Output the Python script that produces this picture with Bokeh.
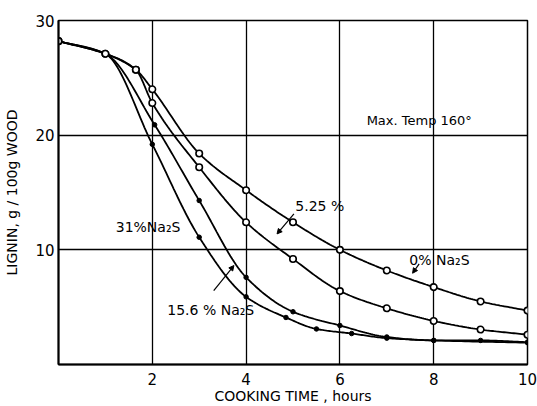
import numpy as np
from bokeh.plotting import figure
from bokeh.models import FixedTicker, Label, Arrow, NormalHead, Range1d
from bokeh.embed import file_html
from bokeh.resources import INLINE

# ---- data ----
x_0 = [0, 1, 1.65, 2, 3, 4, 5, 6, 7, 8, 9, 10]
y_0 = [28.2, 27.1, 25.7, 24.0, 18.4, 15.2, 12.4, 10.0, 8.2, 6.75, 5.5, 4.7]

x_525 = [0, 1, 1.65, 2, 3, 4, 5, 6, 7, 8, 9, 10]
y_525 = [28.2, 27.1, 25.7, 22.8, 17.2, 12.4, 9.2, 6.4, 4.9, 3.8, 3.05, 2.6]

x_156 = [0, 1, 2.05, 3, 4, 5, 6, 7, 8, 9, 10]
y_156 = [28.2, 27.1, 20.9, 14.3, 7.6, 4.6, 3.4, 2.4, 2.1, 2.1, 1.95]

x_31 = [0, 1, 2, 3, 4, 4.85, 5.5, 6.25, 7, 8, 10]
y_31 = [28.2, 27.1, 19.2, 11.1, 5.9, 4.1, 3.1, 2.7, 2.3, 2.1, 1.9]

x_ticks = [2, 4, 6, 8, 10]
y_ticks = [10, 20, 30]

FONT = "DejaVu Sans"


def smooth(xs, ys, n=24):
    """Monotone cubic (PCHIP) rendering path through the read points."""
    x = np.asarray(xs, float)
    y = np.asarray(ys, float)
    h = np.diff(x)
    d = np.diff(y) / h
    m = np.zeros_like(x)
    for k in range(1, len(x) - 1):
        if d[k - 1] * d[k] <= 0:
            m[k] = 0.0
        else:
            w1 = 2 * h[k] + h[k - 1]
            w2 = h[k] + 2 * h[k - 1]
            m[k] = (w1 + w2) / (w1 / d[k - 1] + w2 / d[k])
    m[0] = d[0]
    m[-1] = d[-1]
    px, py = [], []
    for k in range(len(x) - 1):
        t = np.linspace(0, 1, n, endpoint=False)
        h00 = 2 * t**3 - 3 * t**2 + 1
        h10 = t**3 - 2 * t**2 + t
        h01 = -2 * t**3 + 3 * t**2
        h11 = t**3 - t**2
        px.extend(x[k] + t * h[k])
        py.extend(h00 * y[k] + h10 * h[k] * m[k] + h01 * y[k + 1] + h11 * h[k] * m[k + 1])
    px.append(x[-1])
    py.append(y[-1])
    return px, py


p = figure(width=537, height=406, x_range=Range1d(0, 10), y_range=Range1d(0, 30),
           output_backend="svg", toolbar_location=None,
           min_border_left=58, min_border_right=10, min_border_top=20, min_border_bottom=42)

p.background_fill_color = "white"
p.border_fill_color = "white"
p.outline_line_color = "black"
p.outline_line_width = 1.5

for ax in (p.xaxis, p.yaxis):
    ax.axis_line_color = "black"
    ax.axis_line_width = 2
    ax.major_tick_line_color = None
    ax.minor_tick_line_color = None
    ax.major_tick_out = 0
    ax.major_tick_in = 0
    ax.minor_tick_out = 0
    ax.minor_tick_in = 0
    ax.major_label_text_font = FONT
    ax.major_label_text_font_size = "15px"
    ax.major_label_text_color = "black"
    ax.axis_label_text_font = FONT
    ax.axis_label_text_font_size = "14px"
    ax.axis_label_text_font_style = "normal"
    ax.axis_label_text_color = "black"

p.xaxis.ticker = FixedTicker(ticks=x_ticks)
p.yaxis.ticker = FixedTicker(ticks=y_ticks)
p.xaxis.axis_label = "COOKING TIME , hours"
p.yaxis.axis_label = "LIGNIN, g / 100g WOOD"
p.xaxis.major_label_standoff = 8
p.yaxis.major_label_standoff = 4
p.xaxis.axis_label_standoff = 0
p.yaxis.axis_label_standoff = 12

p.xgrid.ticker = FixedTicker(ticks=x_ticks)
p.ygrid.ticker = FixedTicker(ticks=y_ticks)
for g in (p.xgrid, p.ygrid):
    g.grid_line_color = "black"
    g.grid_line_width = 1.3
    g.grid_line_alpha = 1.0

# curves
for xs, ys in ((x_0, y_0), (x_525, y_525), (x_156, y_156), (x_31, y_31)):
    sx, sy = smooth(xs, ys)
    p.line(sx, sy, line_color="black", line_width=1.8)

# markers: small filled marks on the lower curves, open circles on the upper ones
p.scatter(x_156, y_156, marker="circle", size=4.5, fill_color="black", line_color="black")
p.scatter(x_31, y_31, marker="circle", size=4.5, fill_color="black", line_color="black")
p.scatter(x_525, y_525, marker="circle", size=6.5, fill_color="white", line_color="black", line_width=1.6)
p.scatter(x_0, y_0, marker="circle", size=6.5, fill_color="white", line_color="black", line_width=1.6)

# labels
labels = [
    ("Max. Temp 160°", 6.57, 21.27, "13px"),
    ("5.25 %", 5.05, 13.86, "14px"),
    ("0% Na₂S", 7.48, 9.07, "14px"),
    ("31%Na₂S", 1.22, 12.03, "14px"),
    ("15.6 % Na₂S", 2.32, 4.71, "14px"),
]
for txt, lx, ly, fs in labels:
    p.add_layout(Label(x=lx, y=ly, text=txt, text_font=FONT, text_font_size=fs,
                       text_color="black", text_baseline="middle", text_align="left",
                       background_fill_color=None))

arrows = [
    (5.02, 13.13, 4.66, 11.39),
    (7.69, 8.78, 7.55, 7.96),
    (3.31, 6.45, 3.74, 8.63),
]
for x0, y0, x1, y1 in arrows:
    p.add_layout(Arrow(x_start=x0, y_start=y0, x_end=x1, y_end=y1, line_color="black",
                       line_width=1.2,
                       end=NormalHead(size=5, fill_color="black", line_color="black")))

open("out.html", "w").write(file_html(p, INLINE))
